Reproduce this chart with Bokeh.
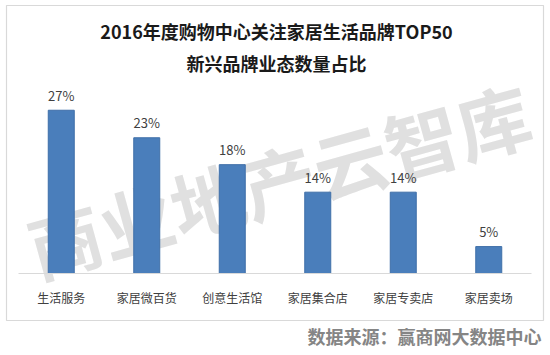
import numpy as np
from bokeh.plotting import figure
from bokeh.models import Range1d, Label
from bokeh.core.properties import value
from bokeh.embed import file_html
from bokeh.resources import INLINE

# ---- data ----
categories = ["生活服务", "家居微百货", "创意生活馆", "家居集合店", "家居专卖店", "家居卖场"]
shares = [27.3, 22.7, 18.2, 13.6, 13.6, 4.5]
share_labels = ["27%", "23%", "18%", "14%", "14%", "5%"]
title_lines = ["2016年度购物中心关注家居生活品牌TOP50", "新兴品牌业态数量占比"]
source_text = "数据来源：赢商网大数据中心"
watermark_text = "商业地产云智库"

# ---- layout (pixels) ----
W, H = 550, 355
n = len(categories)
band_left, band_right = 18, 531
base_py = 273
ppu_y = 5.98
band = (band_right - band_left) / n
X0 = -0.5 - band_left / band
X1 = X0 + W / band
Y0 = -(H - base_py) / ppu_y
Y1 = base_py / ppu_y


def dx(px):
    return X0 + px / band


def dy(py):
    return Y1 - py / ppu_y


FONT = "Noto Sans CJK SC"
idx = list(range(n))

p = figure(width=W, height=H, x_range=Range1d(X0, X1), y_range=Range1d(Y0, Y1),
           output_backend="svg", toolbar_location=None,
           x_axis_location=None, y_axis_location=None, min_border=0)
p.grid.visible = False
p.outline_line_color = None
p.background_fill_color = "white"
p.border_fill_color = "white"

# outer chart box
p.quad(left=[dx(6)], right=[dx(543)], top=[dy(5)], bottom=[dy(320)],
       fill_color=None, line_color="#d9d9d9", line_width=1.2)

# watermark
p.text(x=[dx(278)], y=[dy(178)], text=[watermark_text], angle=0.27,
       text_align="center", text_baseline="middle", text_font_style="bold",
       text_font=value(FONT), text_font_size="74px", text_color="#e0e0e0")

# bars
p.vbar(x=idx, top=shares, bottom=0, width=26 / band,
       fill_color="#4a7ebb", line_color="#3f6fa8", line_width=1)

# baseline
p.segment(x0=[-0.5], x1=[n - 0.5], y0=[0], y1=[0], line_color="#d9d9d9", line_width=1)

# value labels
p.text(x=idx, y=shares, text=share_labels, text_align="center", text_baseline="middle",
       y_offset=-15, text_font=value(FONT), text_font_size="13px", text_color="#404040")

# category labels
p.text(x=idx, y=[0] * n, text=categories, text_align="center", text_baseline="middle",
       y_offset=24, text_font=value(FONT), text_font_size="12px", text_color="#404040")

# titles
for i, line in enumerate(title_lines):
    p.add_layout(Label(x=dx(276), y=dy(30 + 32 * i), text=line, text_align="center",
                       text_baseline="middle", text_font=FONT, text_font_style="bold",
                       text_font_size="18px", text_color="#1a1a1a"))

# source
p.add_layout(Label(x=dx(541), y=dy(335), text=source_text, text_align="right",
                   text_baseline="middle", text_font=FONT, text_font_style="bold",
                   text_font_size="18px", text_color="#858585"))

open("out.html", "w").write(file_html(p, INLINE))
